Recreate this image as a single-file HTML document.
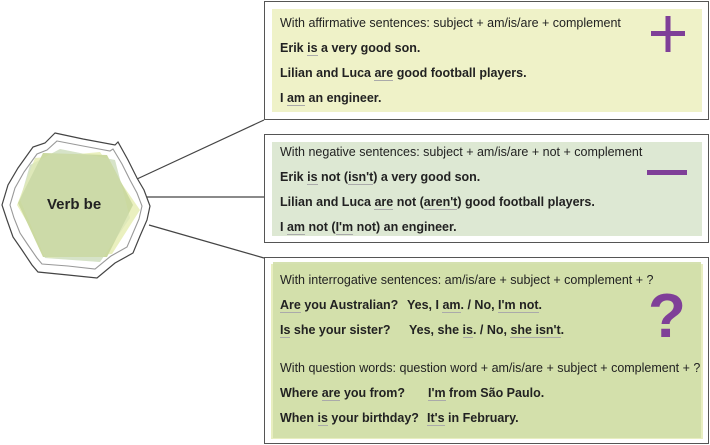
<!DOCTYPE html>
<html><head><meta charset="utf-8"><style>
body{margin:0;width:710px;height:445px;background:#fff;position:relative;overflow:hidden;font-family:"Liberation Sans",sans-serif;color:#222}
.t{position:absolute;font-size:12.5px;white-space:nowrap;line-height:14px}
.b{font-weight:bold}
u{text-decoration:none;border-bottom:1px solid #aaa}
</style></head><body>
<svg width="710" height="445" style="position:absolute;left:0;top:0">
<line x1="137" y1="179" x2="264" y2="120" stroke="#444" stroke-width="1.2"/>
<line x1="147" y1="197" x2="264" y2="197" stroke="#444" stroke-width="1.2"/>
<line x1="149" y1="225" x2="264" y2="258" stroke="#444" stroke-width="1.2"/>
<rect x="264.5" y="1.5" width="444" height="118" fill="#fff" stroke="#555"/>
<rect x="272" y="9" width="430" height="103" fill="#eff2c8"/>
<rect x="264.5" y="134.5" width="444" height="108" fill="#fff" stroke="#555"/>
<rect x="272" y="142" width="430" height="94" fill="#dde8d3"/>
<rect x="264.5" y="257.5" width="444" height="186" fill="#fff" stroke="#555"/>
<rect x="271" y="264" width="432" height="175" fill="#e8eec0"/>
<rect x="273" y="262" width="428" height="176" fill="#d0dea8" opacity="0.9"/>
<polygon points="55,133 83,139 115,145 118,142 128,160 137,178 144,190 150,206 147,220 140,236 133,253 115,263 97,278 68,275 38,272 32,265 22,250 13,237 7,220 2,205 8,185 18,168 33,147 45,143" fill="#fff" stroke="#444" stroke-width="1.2"/>
<polygon points="57,141 83,146 110,151 113,149 122,164 130,180 137,193 142,206 139,219 133,233 127,247 111,256 95,269 68,266 42,264 37,258 28,245 20,233 14,218 10,205 15,188 24,172 37,154 47,150" fill="none" stroke="#999" stroke-width="1.1"/>
<polygon points="60,149 115,160 130,218 100,262 45,258 20,200 30,165" fill="#d9e6cf" opacity="0.95"/>
<polygon points="35,158 100,152 140,210 112,254 48,258 17,205" fill="#e8eeb8" opacity="0.9"/>
<polygon points="43,153 107,155 133,205 107,257 43,257 18,203" fill="#cbd9a0"/>
<polygon points="60,149 115,160 130,218 100,262 45,258 20,200 30,165" fill="#cfdcb8" opacity="0.35"/>
<rect x="651" y="31" width="34" height="5" fill="#7f3f98"/>
<rect x="665.5" y="16" width="5" height="36" fill="#7f3f98"/>
<rect x="647" y="170" width="40" height="5" fill="#7f3f98"/>
</svg>
<div class="t b" style="left:47px;top:197px;font-size:15px;line-height:16px">Verb be</div>
<div class="t" style="left:280px;top:16px">With affirmative sentences: subject + am/is/are + complement</div>
<div class="t b" style="left:280px;top:41px">Erik <u>is</u> a very good son.</div>
<div class="t b" style="left:280px;top:66px">Lilian and Luca <u>are</u> good football players.</div>
<div class="t b" style="left:280px;top:91px">I <u>am</u> an engineer.</div>
<div class="t" style="left:280px;top:145px">With negative sentences: subject + am/is/are + not + complement</div>
<div class="t b" style="left:280px;top:170px">Erik <u>is</u> not (<u>isn't</u>) a very good son.</div>
<div class="t b" style="left:280px;top:195px">Lilian and Luca <u>are</u> not (<u>aren't</u>) good football players.</div>
<div class="t b" style="left:280px;top:220px">I <u>am</u> not (<u>I'm</u> not) an engineer.</div>
<div class="t" style="left:280px;top:273px">With interrogative sentences: am/is/are + subject + complement + ?</div>
<div class="t b" style="left:280px;top:298px"><u>Are</u> you Australian?</div>
<div class="t b" style="left:407px;top:298px">Yes, I <u>am</u>. / No, <u>I'm not</u>.</div>
<div class="t b" style="left:280px;top:323px"><u>Is</u> she your sister?</div>
<div class="t b" style="left:409px;top:323px">Yes, she <u>is</u>. / No, <u>she isn't</u>.</div>
<div class="t" style="left:280px;top:361px">With question words: question word + am/is/are + subject + complement + ?</div>
<div class="t b" style="left:280px;top:386px">Where <u>are</u> you from?</div>
<div class="t b" style="left:428px;top:386px"><u>I'm</u> from São Paulo.</div>
<div class="t b" style="left:280px;top:411px">When <u>is</u> your birthday?</div>
<div class="t b" style="left:427px;top:411px"><u>It's</u> in February.</div>
<div class="t b" style="left:648px;top:286px;font-size:62px;line-height:62px;color:#7f3f98">?</div>
</body></html>
